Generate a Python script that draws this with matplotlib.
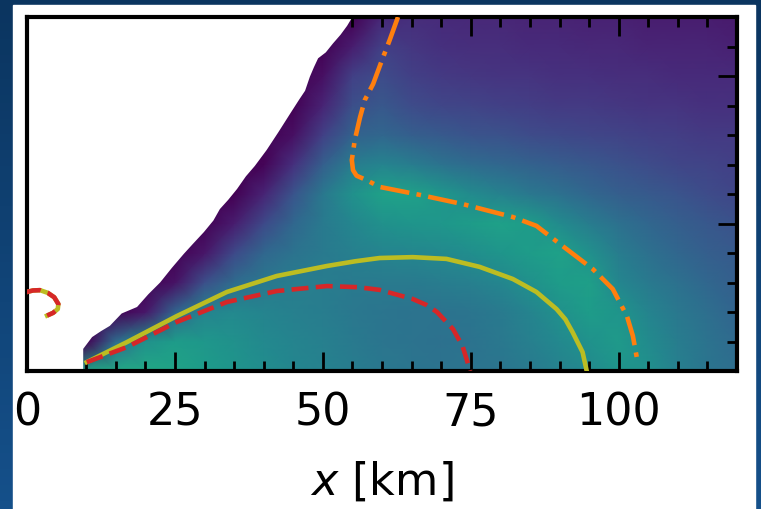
import numpy as np
import matplotlib
matplotlib.use('Agg')
import matplotlib.pyplot as plt
from matplotlib.patches import Rectangle
from matplotlib.ticker import MultipleLocator

# field values (viridis fraction)
# rows: y = 0..12, cols: x = 0..120 km in steps of 5
x_grid = list(range(0, 125, 5))
y_grid = list(range(0, 13))
field = [
    [0, 0, 0.58, 0.60, 0.60, 0.58, 0.55, 0.52, 0.49, 0.46, 0.44, 0.42, 0.40, 0.39, 0.38, 0.38, 0.39, 0.41, 0.44, 0.47, 0.52, 0.50, 0.43, 0.39, 0.36],
    [0, 0, 0, 0.35, 0.50, 0.55, 0.53, 0.50, 0.47, 0.45, 0.43, 0.41, 0.39, 0.38, 0.37, 0.38, 0.40, 0.43, 0.47, 0.51, 0.54, 0.48, 0.42, 0.38, 0.34],
    [0, 0, 0, 0, 0.06, 0.32, 0.45, 0.47, 0.45, 0.43, 0.42, 0.40, 0.39, 0.38, 0.38, 0.39, 0.41, 0.45, 0.50, 0.55, 0.52, 0.45, 0.40, 0.36, 0.32],
    [0, 0, 0, 0, 0, 0.05, 0.24, 0.35, 0.40, 0.42, 0.42, 0.41, 0.41, 0.41, 0.42, 0.43, 0.46, 0.50, 0.55, 0.56, 0.46, 0.41, 0.37, 0.33, 0.30],
    [0, 0, 0, 0, 0, 0, 0.06, 0.22, 0.33, 0.38, 0.41, 0.43, 0.45, 0.46, 0.47, 0.49, 0.52, 0.55, 0.57, 0.50, 0.42, 0.37, 0.33, 0.30, 0.28],
    [0, 0, 0, 0, 0, 0, 0, 0.08, 0.22, 0.33, 0.41, 0.46, 0.50, 0.52, 0.53, 0.55, 0.57, 0.55, 0.48, 0.42, 0.37, 0.33, 0.30, 0.27, 0.25],
    [0, 0, 0, 0, 0, 0, 0, 0, 0.10, 0.26, 0.40, 0.50, 0.57, 0.57, 0.53, 0.48, 0.44, 0.40, 0.37, 0.33, 0.30, 0.28, 0.26, 0.23, 0.21],
    [0, 0, 0, 0, 0, 0, 0, 0, 0.01, 0.14, 0.30, 0.42, 0.45, 0.42, 0.38, 0.35, 0.33, 0.31, 0.29, 0.27, 0.25, 0.23, 0.21, 0.20, 0.19],
    [0, 0, 0, 0, 0, 0, 0, 0, 0, 0.04, 0.19, 0.31, 0.33, 0.30, 0.28, 0.26, 0.25, 0.23, 0.22, 0.21, 0.20, 0.19, 0.18, 0.17, 0.17],
    [0, 0, 0, 0, 0, 0, 0, 0, 0, 0, 0.10, 0.24, 0.27, 0.23, 0.21, 0.20, 0.19, 0.18, 0.17, 0.17, 0.16, 0.15, 0.15, 0.14, 0.14],
    [0, 0, 0, 0, 0, 0, 0, 0, 0, 0, 0.04, 0.19, 0.23, 0.19, 0.17, 0.16, 0.15, 0.15, 0.14, 0.14, 0.13, 0.13, 0.12, 0.12, 0.12],
    [0, 0, 0, 0, 0, 0, 0, 0, 0, 0, 0, 0.08, 0.19, 0.16, 0.14, 0.13, 0.13, 0.12, 0.12, 0.11, 0.11, 0.10, 0.10, 0.10, 0.09],
    [0, 0, 0, 0, 0, 0, 0, 0, 0, 0, 0, 0, 0.11, 0.13, 0.12, 0.11, 0.11, 0.10, 0.10, 0.09, 0.09, 0.08, 0.08, 0.08, 0.07],
]

# edge of the valid data region (everything up-left of it is blank)
edge_x = [9.5, 9.5, 11.0, 12.5, 14.0, 16.0, 18.6, 20.5, 22.5, 24.5, 26.5, 28.0, 29.9, 31.5,
          32.6, 34.0, 35.5, 37.0, 38.5, 40.5, 42.5, 44.4, 46.0, 47.0, 47.8, 48.5, 49.2, 50.5,
          51.7, 53.0, 54.1, 55.0]
edge_y = [0.0, 0.75, 1.15, 1.35, 1.53, 1.95, 2.17, 2.6, 3.0, 3.5, 3.97, 4.3, 4.71, 5.1,
          5.49, 5.8, 6.17, 6.6, 6.95, 7.49, 8.1, 8.7, 9.2, 9.5, 9.97, 10.3, 10.6, 10.8,
          11.1, 11.4, 11.7, 12.0]

# contours
yel_x = [10.1, 16.9, 25.3, 33.8, 42.2, 50.7, 55.5, 59.6, 65.2, 70.9, 76.5, 82.1, 86.1, 89.5, 91.0,
         92.2, 93.9, 94.6]
yel_y = [0.3, 0.98, 1.86, 2.68, 3.22, 3.56, 3.72, 3.83, 3.86, 3.8, 3.53, 3.12, 2.68, 2.1, 1.75,
         1.32, 0.64, 0.0]
red_x = [10.1, 16.9, 25.3, 33.8, 42.2, 50.7, 56.0, 59.6, 65.2, 67.5, 69.3, 72.0, 73.6, 74.7, 74.9]
red_y = [0.3, 0.81, 1.66, 2.34, 2.71, 2.88, 2.84, 2.75, 2.44, 2.24, 2.0, 1.42, 0.85, 0.14, 0.0]
arc_x = [-0.5, 0.0, 1.0, 2.2, 3.5, 4.6, 5.3, 5.2, 4.4, 3.4]
arc_y = [2.66, 2.68, 2.73, 2.74, 2.65, 2.5, 2.27, 2.1, 1.97, 1.88]
ora_x = [62.7, 61.3, 60.0, 58.5, 57.1, 56.3, 55.4, 54.9, 55.1, 55.7, 57.4, 59.6, 66.4, 73.6, 82.1,
         86.1, 90.5, 95.6, 99.0, 101.4, 102.4, 103.2]
ora_y = [12.0, 11.22, 10.54, 9.73, 9.19, 8.61, 7.83, 7.15, 6.81, 6.62, 6.47, 6.24, 5.97, 5.66, 5.22,
         4.92, 4.24, 3.46, 2.78, 1.86, 1.19, 0.31]

fig = plt.figure(figsize=(7.61, 5.10), dpi=100)

# blue frame behind a white panel
bg = fig.add_axes([0, 0, 1, 1])
bg.imshow(np.linspace(1, 0, 64).reshape(-1, 1), aspect='auto', extent=[0, 1, 0, 1],
          cmap=matplotlib.colors.LinearSegmentedColormap.from_list('bg', ['#15508a', '#0b3560']))
bg.axis('off')
fig.patches.append(Rectangle((13 / 761, 0), 742 / 761, 504 / 510, color='white',
                             transform=fig.transFigure, zorder=1))

ax = fig.add_axes([27 / 761, 138 / 510, 710 / 761, 354 / 510])
ax.set_zorder(2)
ax.pcolormesh(x_grid, y_grid, np.array(field), shading='gouraud', cmap='viridis', vmin=0, vmax=1)
ax.fill(list(edge_x) + [0, 0], list(edge_y) + [12, 0], color='white', lw=0, zorder=2)

ax.plot(yel_x, yel_y, color='#bcbd22', lw=3.3, zorder=3)
ax.plot(arc_x, arc_y, color='#bcbd22', lw=3.3, zorder=3)
ax.plot(red_x, red_y, color='#d62728', lw=3.3, ls='--', zorder=4)
ax.plot(arc_x, arc_y, color='#d62728', lw=3.3, ls='--', zorder=4)
ax.plot(ora_x, ora_y, color='#ff7f0e', lw=3.3, ls='-.', zorder=4)

ax.set_xlim(0, 120)
ax.set_ylim(0, 12)
ax.set_xticks([0, 25, 50, 75, 100])
ax.xaxis.set_minor_locator(MultipleLocator(5))
ax.set_yticks([0, 5, 10])
ax.yaxis.set_minor_locator(MultipleLocator(1))
ax.tick_params(which='both', direction='in', top=True, right=True, width=2, labelsize=32,
               labelleft=False, pad=14)
ax.tick_params(which='major', length=14)
ax.tick_params(which='minor', length=7.5)
for s in ax.spines.values():
    s.set_linewidth(3)
ax.set_xlabel('$x$ [km]', fontsize=32, labelpad=18)

fig.savefig('out.png', dpi=100)
